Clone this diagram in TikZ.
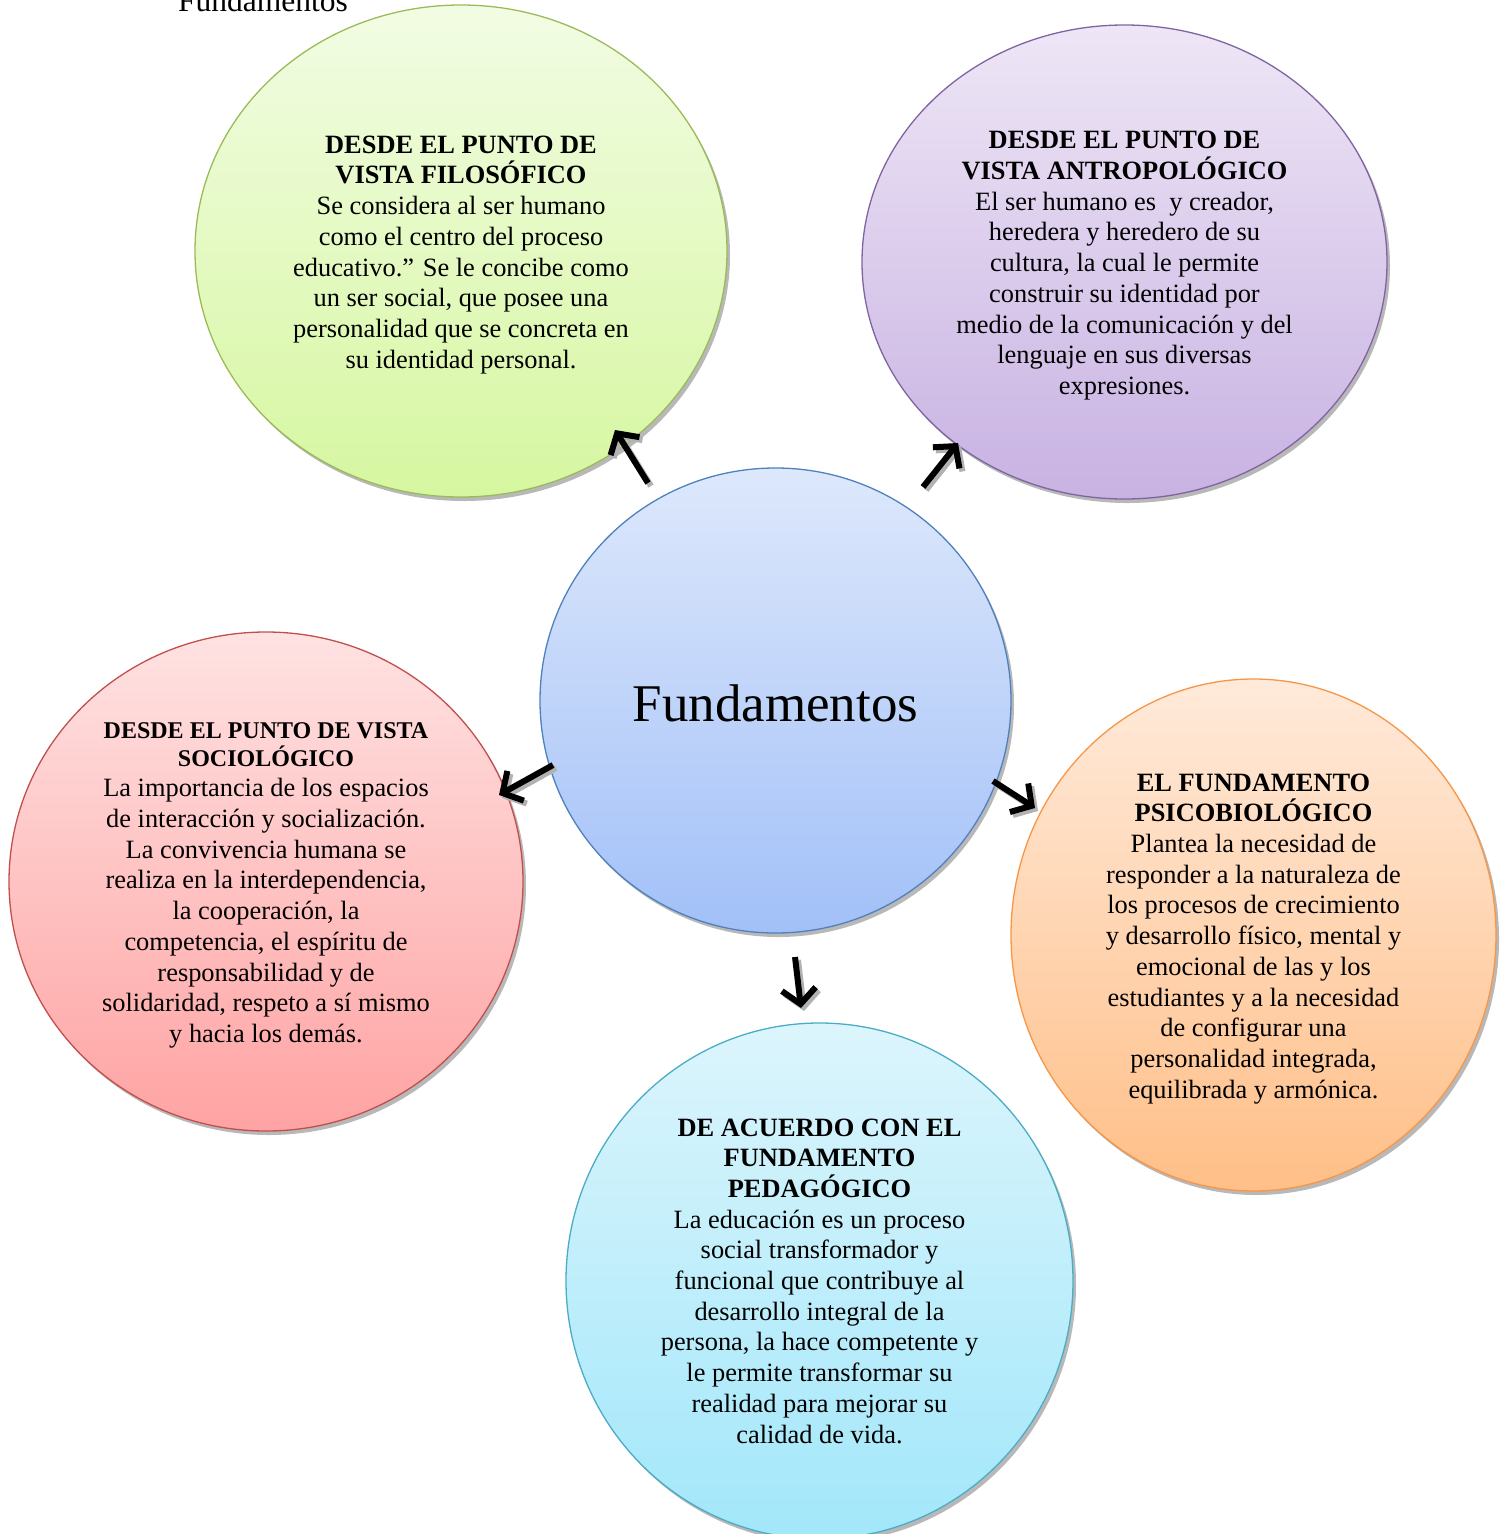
\documentclass[tikz,border=0pt]{standalone}
\usepackage{fontspec}
\setmainfont{Liberation Serif}
\usetikzlibrary{shapes.geometric,arrows.meta,shadows}
\begin{document}
\begin{tikzpicture}[x=1pt,y=-1pt,
  bub/.style={ellipse, inner sep=0pt, align=center, line width=1.3pt,
    font=\fontsize{26.4}{30.7}\selectfont,
    drop shadow={shadow xshift=3pt, shadow yshift=-4pt, fill=black!35, opacity=0.8}},
  arr/.style={line width=6pt, -{Straight Barb[length=15pt,width=34pt,line width=6pt]}},
  arrsh/.style={line width=6pt, black!30, -{Straight Barb[length=15pt,width=34pt,line width=6pt]}}
]
\useasboundingbox (0,0) rectangle (1506,1534);
\definecolor{gB}{HTML}{9BBB59}\definecolor{gT}{HTML}{F2FCE4}\definecolor{gL}{HTML}{D6F7A0}
\definecolor{pB}{HTML}{8064A2}\definecolor{pT}{HTML}{EEE6F6}\definecolor{pL}{HTML}{C8B2E2}
\definecolor{bB}{HTML}{4F81BD}\definecolor{bT}{HTML}{DDE8FB}\definecolor{bL}{HTML}{A2C0F8}
\definecolor{rB}{HTML}{C0504D}\definecolor{rT}{HTML}{FFE2E2}\definecolor{rL}{HTML}{FFA3A3}
\definecolor{oB}{HTML}{F79646}\definecolor{oT}{HTML}{FFEADA}\definecolor{oL}{HTML}{FFBF88}
\definecolor{cB}{HTML}{4BACC6}\definecolor{cT}{HTML}{DCF5FC}\definecolor{cL}{HTML}{A2E7FA}

\node[anchor=base west, font=\fontsize{31.5}{36}\selectfont, inner sep=0pt] (ttl) at (178,11) {Fundamentos};

\node[bub, draw=gB, top color=gT, bottom color=gL, minimum width=532pt, minimum height=492pt] (fil) at (461,251)
{\rule{0pt}{25pt}\textbf{DESDE EL PUNTO DE}\\ \textbf{VISTA FILOSÓFICO}\\
Se considera al ser humano\\ como el centro del proceso\\ educativo.” Se le concibe como\\
un ser social, que posee una\\ personalidad que se concreta en\\ su identidad personal.};

\node[bub, draw=pB, top color=pT, bottom color=pL, minimum width=525pt, minimum height=474pt] (ant) at (1124.5,262)
{\rule{0pt}{25pt}\textbf{DESDE EL PUNTO DE}\\ \textbf{VISTA ANTROPOLÓGICO}\\
El ser humano es~ y creador,\\ heredera y heredero de su\\ cultura, la cual le permite\\
construir su identidad por\\ medio de la comunicación y del\\ lenguaje en sus diversas\\ expresiones.};

\node[bub, draw=bB, top color=bT, bottom color=bL, minimum width=471pt, minimum height=465pt,
  font=\fontsize{53}{60}\selectfont] (cen) at (775.5,700.5) {\rule{0pt}{42pt}Fundamentos};

\node[bub, draw=rB, top color=rT, bottom color=rL, minimum width=514pt, minimum height=499pt] (soc) at (266,881.5)
{\rule{0pt}{24pt}{\fontsize{24}{27}\selectfont\bfseries DESDE EL PUNTO DE VISTA}\\[-3.5pt]
{\fontsize{24}{27}\selectfont\bfseries SOCIOLÓGICO}\\
La importancia de los espacios\\ de interacción y socialización.\\ La convivencia humana se\\
realiza en la interdependencia,\\ la cooperación, la\\ competencia, el espíritu de\\
responsabilidad y de\\ solidaridad, respeto a sí mismo\\ y hacia los demás.};

\node[bub, draw=oB, top color=oT, bottom color=oL, minimum width=485pt, minimum height=512pt] (psi) at (1253.5,935)
{\rule{0pt}{25pt}\textbf{EL FUNDAMENTO}\\ \textbf{PSICOBIOLÓGICO}\\
Plantea la necesidad de\\ responder a la naturaleza de\\ los procesos de crecimiento\\
y desarrollo físico, mental y\\ emocional de las y los\\ estudiantes y a la necesidad\\
de configurar una\\ personalidad integrada,\\ equilibrada y armónica.};

\node[bub, draw=cB, top color=cT, bottom color=cL, minimum width=507pt, minimum height=516pt] (ped) at (819.5,1281)
{\textbf{DE ACUERDO CON EL}\\ \textbf{FUNDAMENTO}\\ \textbf{PEDAGÓGICO}\\
La educación es un proceso\\ social transformador y\\ funcional que contribuye al\\
desarrollo integral de la\\ persona, la hace competente y\\ le permite transformar su\\
realidad para mejorar su\\ calidad de vida.};

% arrow end points
\coordinate (a1s) at (648,483); \coordinate (a1e) at (615,430);
\coordinate (a2s) at (923,487); \coordinate (a2e) at (958,443);
\coordinate (a3s) at (553,765); \coordinate (a3e) at (499,795);
\coordinate (a4s) at (993,781); \coordinate (a4e) at (1035,808);
\coordinate (a5s) at (795,957); \coordinate (a5e) at (801,1008);

\foreach \s/\e in {a1s/a1e,a2s/a2e,a3s/a3e,a4s/a4e,a5s/a5e}{
  \draw[arrsh] ([shift={(3,3)}]\s) -- ([shift={(3,3)}]\e);
  \draw[arr] (\s) -- (\e);
}
\end{tikzpicture}
\end{document}
